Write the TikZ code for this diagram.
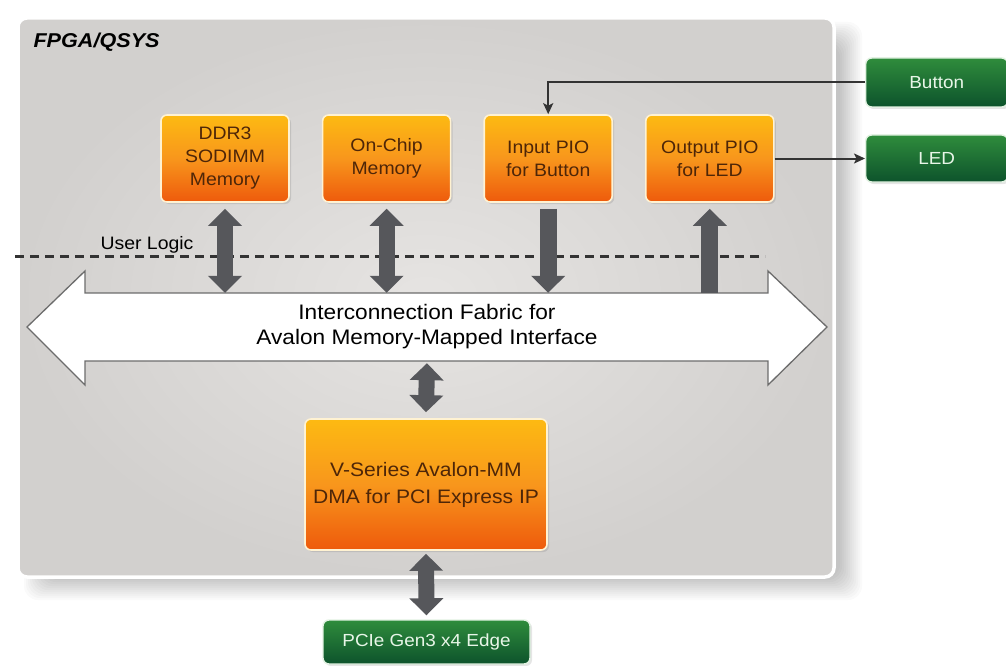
\documentclass[tikz,border=0pt]{standalone}
\usepackage{fontspec}
\setmainfont{Liberation Sans}[FakeStretch=1.08]
\usetikzlibrary{arrows.meta,positioning,shadows}
\definecolor{fpgain}{HTML}{E6E4E2}
\definecolor{fpgaout}{HTML}{D2D0CE}
\definecolor{iptop}{HTML}{FDBA12}
\definecolor{ipmid}{HTML}{F8961C}
\definecolor{ipbot}{HTML}{EE5A0C}
\definecolor{ipedge}{HTML}{FFF2D2}
\definecolor{iptext}{HTML}{4E2608}
\definecolor{pintop}{HTML}{2F8C3C}
\definecolor{pinbot}{HTML}{0D532C}
\definecolor{pinedge}{HTML}{E2F2E2}
\definecolor{pintext}{HTML}{E8F6E8}
\definecolor{busgray}{HTML}{56575B}
\definecolor{wiregray}{HTML}{333333}
\tikzset{
  fpgabox/.style={rectangle, rounded corners=9pt, draw=white, line width=3.5pt,
    inner color=fpgain, outer color=fpgaout},
  ipbox/.style={rectangle, rounded corners=6pt, draw=ipedge, line width=1.6pt,
    top color=iptop, bottom color=ipbot, middle color=ipmid, text=iptext, align=center,
    font=\fontsize{18}{23}\selectfont,
    drop shadow={shadow xshift=2pt, shadow yshift=-2pt, opacity=.25}},
  pinbox/.style={rectangle, rounded corners=6pt, draw=pinedge, line width=1.4pt,
    top color=pintop, bottom color=pinbot, text=pintext, align=center,
    font=\fontsize{17.5}{20}\selectfont,
    drop shadow={shadow xshift=2pt, shadow yshift=-2pt, opacity=.2}},
  fatone/.style={draw=busgray, line width=17pt, -{Triangle[length=17pt,width=33pt]}},
  fatboth/.style={draw=busgray, line width=16pt, {Triangle[length=17pt,width=33pt]}-{Triangle[length=17pt,width=33pt]}},
  wire/.style={draw=wiregray, line width=2pt, -{Stealth[length=11pt,width=10pt,inset=2.5pt]}},
  fabricline/.style={draw=gray!85!black, line width=1.3pt, fill=white}
}
\begin{document}
\begin{tikzpicture}[x=1pt,y=-1pt]
\useasboundingbox[fill=white] (0,0) rectangle (1006,666);
% soft shadow of the FPGA box
\foreach \s in {0,2,...,22}
  \fill[black, opacity=0.018, rounded corners=14pt] (24+\s,22+\s) rectangle (862-\s,600-\s);
\node[fpgabox, minimum width=816pt, minimum height=559pt] (fpga) at (426,297.5) {};
\node[anchor=base west, font=\fontsize{20}{22}\selectfont\bfseries\itshape] (title) at (30,48) {FPGA/QSYS};
\draw[wiregray, line width=3pt, dash pattern=on 9pt off 6pt] (15,256) -- (765,256);
\node[anchor=base west, font=\fontsize{18}{20}\selectfont] (userlogic) at (97,249) {User Logic};
\draw[fabricline] (27,327) -- (85,271) -- (85,293) -- (768,293) -- (768,271) -- (827,327)
  -- (768,385) -- (768,361) -- (85,361) -- (85,385) -- cycle;
\node[minimum width=683pt, minimum height=68pt, align=center, font=\fontsize{21}{25}\selectfont] (fabric) at (427,327)
  {Interconnection Fabric for\\Avalon Memory-Mapped Interface};
\node[ipbox, minimum width=128pt, minimum height=87pt] (ddr) at (225,158.5) {DDR3\\SODIMM\\Memory};
\node[ipbox, minimum width=128pt, minimum height=87pt, right=32pt of ddr] (onchip) {On-Chip\\Memory};
\node[ipbox, minimum width=128pt, minimum height=87pt, right=32pt of onchip] (inpio) {Input PIO\\for Button};
\node[ipbox, minimum width=128pt, minimum height=87pt, right=32pt of inpio] (outpio) {Output PIO\\for LED};
\node[pinbox, minimum width=142pt, minimum height=49pt, anchor=west] (button) at (865,82.5) {Button};
\node[pinbox, minimum width=142pt, minimum height=47pt, anchor=west] (led) at (865,158.5) {LED};
\node[ipbox, minimum width=242pt, minimum height=131pt, font=\fontsize{19.5}{27}\selectfont] (dma) at (426,484.5)
  {V-Series Avalon-MM\\DMA for PCI Express IP};
\node[pinbox, minimum width=207pt, minimum height=44pt] (pcie) at (426.5,642) {PCIe Gen3 x4 Edge};
\draw[wire] (button.west) -| (inpio.north);
\draw[wire] (outpio.east) -- (led.west);
\draw[fatboth] ([yshift=-6pt]ddr.south) -- (ddr.south |- fabric.north);
\draw[fatboth] ([yshift=-6pt]onchip.south) -- (onchip.south |- fabric.north);
\draw[fatone] ([yshift=-6pt]inpio.south) -- (inpio.south |- fabric.north);
\draw[fatone] (outpio.south |- fabric.north) -- ([yshift=-6pt]outpio.south);
\draw[fatboth] ([yshift=-2pt]fabric.south) -- ([yshift=6pt]dma.north);
\draw[fatboth] ([yshift=-3pt]dma.south) -- ([yshift=4pt]pcie.north);
\end{tikzpicture}
\end{document}
